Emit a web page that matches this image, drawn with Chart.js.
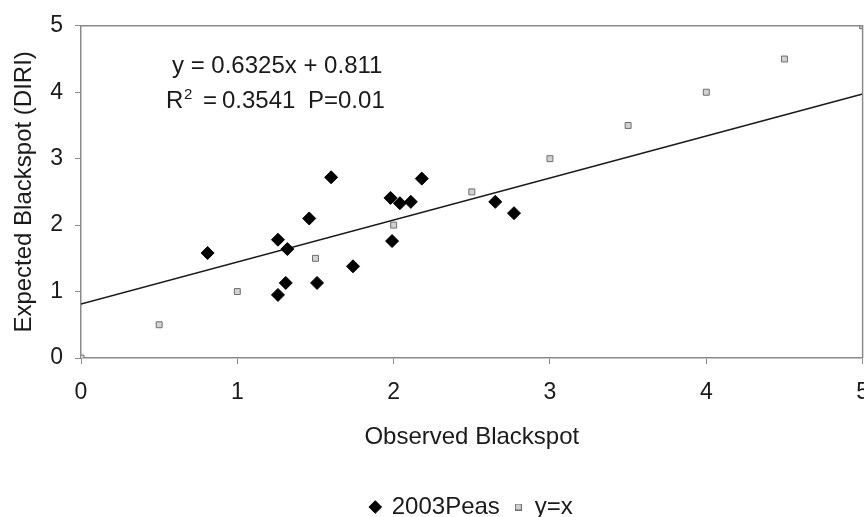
<!DOCTYPE html>
<html>
<head>
<meta charset="utf-8">
<script src="https://cdn.jsdelivr.net/npm/chart.js@4.4.1/dist/chart.umd.min.js"></script>
<style>
  html, body { margin: 0; padding: 0; background: #fff; overflow: hidden; }
  #wrap { width: 864px; height: 517px; overflow: hidden; }
</style>
</head>
<body>
<div id="wrap"><canvas id="grafico" width="884" height="529"></canvas></div>
<script>
// valores
let peasX = [0.81, 1.26, 1.32, 1.46, 1.60, 1.26, 1.31, 1.51, 1.74, 1.99, 1.98, 2.04, 2.11, 2.18, 2.65, 2.77];
let peasY = [1.58, 1.78, 1.64, 2.10, 2.72, 0.95, 1.13, 1.13, 1.38, 1.76, 2.41, 2.33, 2.35, 2.70, 2.35, 2.18];

let identX = [0, 0.5, 1, 1.5, 2, 2.5, 3, 3.5, 4, 4.5, 5];
let identY = [0, 0.5, 1, 1.5, 2, 2.5, 3, 3.5, 4, 4.5, 5];

// recta de tendencia y = 0.6325x + 0.811
let trendX = [0, 5];
let trendY = [0.811, 3.974];

let ticksX = [0, 1, 2, 3, 4, 5];
let ticksY = [0, 1, 2, 3, 4, 5];

let ecuacion = "y = 0.6325x + 0.811";
let r2Valor = "0.3541";
let pTexto = "P=0.01";

function puntos(xs, ys) {
  return xs.map((x, i) => ({ x: x, y: ys[i] }));
}

let gris = "#8a8a8a";
let texto = "#1a1a1a";
let fuente = "'Liberation Sans', Arial, sans-serif";

// cuadrito pequeño para la leyenda de y=x
let cuadrito = document.createElement("canvas");
cuadrito.width = 7;
cuadrito.height = 7;
let cc = cuadrito.getContext("2d");
cc.fillStyle = "#6e6e6e";
cc.fillRect(0, 0, 7, 7);
cc.fillStyle = "#d0d0d0";
cc.fillRect(1, 1, 5, 5);

// marco superior y derecho + texto de la ecuacion
let anotaciones = {
  id: "anotaciones",
  afterDatasetsDraw(chart) {
    let ctx = chart.ctx;
    let a = chart.chartArea;
    ctx.save();
    ctx.strokeStyle = gris;
    ctx.lineWidth = 1.5;
    ctx.beginPath();
    ctx.moveTo(a.left, a.top);
    ctx.lineTo(a.right, a.top);
    ctx.lineTo(a.right, a.bottom);
    ctx.stroke();

    ctx.fillStyle = texto;
    ctx.textBaseline = "alphabetic";
    ctx.font = "24px " + fuente;
    ctx.fillText(ecuacion, 172, 73);
    ctx.fillText("R", 166, 108);
    ctx.fillText("=", 203, 108);
    ctx.fillText(r2Valor, 222, 108);
    ctx.fillText(pTexto, 308, 108);
    ctx.font = "15px " + fuente;
    ctx.fillText("2", 184, 99);
    ctx.restore();
  }
};

let ctx = document.getElementById("grafico").getContext("2d");

new Chart(ctx, {
  type: "scatter",
  data: {
    datasets: [
      {
        label: "2003Peas",
        data: puntos(peasX, peasY),
        pointStyle: "rectRot",
        pointRadius: 6.5,
        pointHoverRadius: 6.5,
        backgroundColor: "#000",
        borderColor: "#000",
        borderWidth: 1
      },
      {
        label: "y=x",
        data: puntos(identX, identY),
        pointStyle: "rect",
        pointRadius: 4.2,
        pointHoverRadius: 4.2,
        backgroundColor: "#d2d2d2",
        borderColor: "#6e6e6e",
        borderWidth: 1
      },
      {
        label: "tendencia",
        data: puntos(trendX, trendY),
        showLine: true,
        pointRadius: 0,
        borderColor: "#1a1a1a",
        borderWidth: 1.5,
        fill: false
      }
    ]
  },
  options: {
    responsive: false,
    animation: false,
    layout: { padding: { top: 22, left: 0, right: 0, bottom: 0 } },
    plugins: {
      tooltip: { enabled: false },
      legend: {
        position: "bottom",
        fullSize: false,
        labels: {
          generateLabels: chart => {
            let items = Chart.defaults.plugins.legend.labels.generateLabels(chart);
            items.forEach(it => { if (it.text === "y=x") it.pointStyle = cuadrito; });
            return items.filter(it => it.text !== "tendencia");
          },
          usePointStyle: true,
          boxWidth: 9,
          boxHeight: 9,
          padding: 14,
          color: texto,
          font: { family: fuente, size: 24 }
        }
      }
    },
    scales: {
      x: {
        type: "linear",
        min: 0,
        max: 5,
        afterBuildTicks: s => { s.ticks = ticksX.map(v => ({ value: v })); },
        afterFit: s => { s.height = 123; },
        border: { color: gris, width: 1.5 },
        grid: { display: true, drawOnChartArea: false, drawTicks: true, tickLength: 6, color: gris },
        ticks: { color: texto, padding: 15, font: { family: fuente, size: 23 } },
        title: {
          display: true,
          text: "Observed Blackspot",
          color: texto,
          padding: { top: 0, bottom: 29 },
          font: { family: fuente, size: 24 }
        }
      },
      y: {
        type: "linear",
        min: 0,
        max: 5,
        afterBuildTicks: s => { s.ticks = ticksY.map(v => ({ value: v })); },
        afterFit: s => { s.width = 81; },
        border: { color: gris, width: 1.5 },
        grid: { display: true, drawOnChartArea: false, drawTicks: true, tickLength: 6, color: gris },
        ticks: { color: texto, padding: 12, font: { family: fuente, size: 23 } },
        title: {
          display: true,
          text: "Expected Blackspot (DIRI)",
          color: texto,
          padding: { top: 10, bottom: 0 },
          font: { family: fuente, size: 24 }
        }
      }
    }
  },
  plugins: [anotaciones]
});
</script>
</body>
</html>
